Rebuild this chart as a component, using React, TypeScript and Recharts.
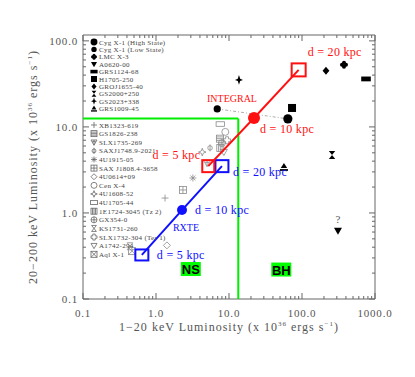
import {
  ScatterChart,
  Scatter,
  XAxis,
  YAxis,
  ReferenceLine,
  ReferenceArea,
  ReferenceDot,
  Legend,
} from "recharts";

// Black hole candidates (1-20 keV and 20-200 keV luminosity, x 1e36 erg/s)
const bhNames = [
  "Cyg X-1 (High State)",
  "Cyg X-1 (Low State)",
  "LMC X-3",
  "A0620-00",
  "GRS1124-68",
  "H1705-250",
  "GROJ1655-40",
  "GS2000+250",
  "GS2023+338",
  "GRS1009-45",
];
const bhLx = [64, 6.9, 376, 311, 753, 73, 213, 258, 13.7, 56.6];
const bhLhx = [12.4, 16.2, 52.6, 0.62, 36.1, 16.6, 44.8, 4.72, 35.2, 3.43];

// Neutron star sources
const nsNames = [
  "XB1323-619",
  "GS1826-238",
  "SLX1735-269",
  "SAXJ1748.9-2021",
  "4U1915-05",
  "SAX J1808.4-3658",
  "4U0614+09",
  "Cen X-4",
  "4U1608-52",
  "4U1705-44",
  "1E1724-3045 (Tz 2)",
  "GX354-0",
  "KS1731-260",
  "SLX1732-304 (Ter 1)",
  "A1742-294",
  "Aql X-1",
];
const nsLx = [1.33, 7.5, 5.0, 5.5, 3.2, 2.34, 1.41, 8.9, 4.3, 7.6, 7.6, 8.0, 0.44, 9.4, 8.5, 0.47];
const nsLhx = [1.49, 7.3, 3.8, 5.7, 2.55, 1.85, 0.42, 8.75, 5.1, 10.8, 5.7, 6.5, 0.41, 7.0, 5.1, 0.36];

// The new source at assumed distances
const distances = [5, 10, 20];
const integralLx = [5.2, 22, 90];
const integralLhx = [3.5, 12.7, 46];
const rxteLx = [0.64, 2.27, 8.0];
const rxteLhx = [0.325, 1.08, 3.5];

// NS / BH dividing box
const limitLx = 13.4;
const limitLhx = 12.5;

// axes
const xMajor = [0.1, 1, 10, 100, 1000];
const xMajorLabels = ["0.1", "1.0", "10.0", "100.0", "1000.0"];
const yMajor = [0.1, 1, 10, 100];
const yMajorLabels = ["0.1", "1.0", "10.0", "100.0"];
const yMax = 117;

const symbolOf: Record<string, string> = {
  "Cyg X-1 (High State)": "circleBig",
  "Cyg X-1 (Low State)": "circle",
  "LMC X-3": "club",
  "A0620-00": "triDown",
  "GRS1124-68": "rect",
  "H1705-250": "square",
  "GROJ1655-40": "diamond",
  "GS2000+250": "hourglass",
  "GS2023+338": "star4",
  "GRS1009-45": "triUp",
  "XB1323-619": "plus",
  "GS1826-238": "sqH",
  "SLX1735-269": "triDownLine",
  "SAXJ1748.9-2021": "circleBar",
  "4U1915-05": "asterisk",
  "SAX J1808.4-3658": "sqCross",
  "4U0614+09": "diamondO",
  "Cen X-4": "circleO",
  "4U1608-52": "star4O",
  "4U1705-44": "rectO",
  "1E1724-3045 (Tz 2)": "sqV",
  "GX354-0": "circleCross",
  "KS1731-260": "hourglassO",
  "SLX1732-304 (Ter 1)": "clubO",
  "A1742-294": "triDownO",
  "Aql X-1": "sqX",
};

const PLOT_W = 292;
const PLOT_H = 264;
const axisColor = "#666";
const textColor = "#555";
const serif = "'Liberation Serif', 'DejaVu Serif', serif";
const red = "#ff1010";
const blue = "#1010ff";
const green = "#00ee00";
const nsGrey = "#8a8a8a";

function minorTicks(majors: number[], max: number) {
  const out: number[] = [];
  majors.forEach((d) => {
    for (let k = 1; k <= 9; k++) {
      const v = k === 1 ? d : d * k;
      if (v <= max) out.push(v);
    }
  });
  return out;
}
const xTicks = minorTicks(xMajor, 1000);
const yTicks = minorTicks(yMajor, yMax);

const bhData = bhNames.map((name, i) => ({ name, x: bhLx[i], y: bhLhx[i] }));
const nsData = nsNames.map((name, i) => ({ name, x: nsLx[i], y: nsLhx[i] }));
const integralData = distances.map((d, i) => ({ d, x: integralLx[i], y: integralLhx[i] }));
const rxteData = distances.map((d, i) => ({ d, x: rxteLx[i], y: rxteLhx[i] }));
// INTEGRAL track of Cyg X-1 between its two states
const cygTrack = [bhData[1], bhData[0]];

function Sym({ kind, cx, cy, s, color }: { kind: string; cx: number; cy: number; s: number; color: string }) {
  const o = { fill: "none", stroke: color, strokeWidth: 0.8 };
  const f = { fill: color, stroke: "none" };
  const w = s * 0.4;
  switch (kind) {
    case "circleBig":
      return <circle cx={cx} cy={cy} r={s * 1.15} {...f} />;
    case "circle":
      return <circle cx={cx} cy={cy} r={s * 0.9} {...f} />;
    case "club":
      return (
        <g {...f}>
          <circle cx={cx - s * 0.5} cy={cy} r={s * 0.5} />
          <circle cx={cx + s * 0.5} cy={cy} r={s * 0.5} />
          <circle cx={cx} cy={cy - s * 0.5} r={s * 0.5} />
          <circle cx={cx} cy={cy + s * 0.5} r={s * 0.5} />
        </g>
      );
    case "triDown":
      return <polygon points={`${cx - s},${cy - s * 0.75} ${cx + s},${cy - s * 0.75} ${cx},${cy + s}`} {...f} />;
    case "rect":
      return <rect x={cx - s * 1.2} y={cy - s * 0.6} width={s * 2.4} height={s * 1.2} {...f} />;
    case "square":
      return <rect x={cx - s} y={cy - s} width={s * 2} height={s * 2} {...f} />;
    case "diamond":
      return <polygon points={`${cx},${cy - s} ${cx + s * 0.85},${cy} ${cx},${cy + s} ${cx - s * 0.85},${cy}`} {...f} />;
    case "hourglass":
      return <path d={`M${cx - s * 0.8},${cy - s}H${cx + s * 0.8}L${cx - s * 0.8},${cy + s}H${cx + s * 0.8}Z`} {...f} />;
    case "star4":
      return (
        <polygon
          points={`${cx},${cy - s * 1.2} ${cx + s * 0.3},${cy - s * 0.3} ${cx + s},${cy} ${cx + s * 0.3},${cy + s * 0.3} ${cx},${cy + s * 1.2} ${cx - s * 0.3},${cy + s * 0.3} ${cx - s},${cy} ${cx - s * 0.3},${cy - s * 0.3}`}
          {...f}
        />
      );
    case "triUp":
      return (
        <g {...f}>
          <polygon points={`${cx - s * 0.8},${cy + s * 0.3} ${cx + s * 0.8},${cy + s * 0.3} ${cx},${cy - s}`} />
          <rect x={cx - s} y={cy + s * 0.55} width={s * 2} height={s * 0.45} />
        </g>
      );
    case "plus":
      return <path d={`M${cx - s},${cy}H${cx + s}M${cx},${cy - s}V${cy + s}`} {...o} />;
    case "sqH":
      return (
        <g {...o}>
          <rect x={cx - s} y={cy - s} width={s * 2} height={s * 2} />
          <path d={`M${cx - s},${cy - s / 2}H${cx + s}M${cx - s},${cy}H${cx + s}M${cx - s},${cy + s / 2}H${cx + s}`} />
        </g>
      );
    case "triDownLine":
      return (
        <g {...o}>
          <polygon points={`${cx - s},${cy - s * 0.75} ${cx + s},${cy - s * 0.75} ${cx},${cy + s}`} />
          <path d={`M${cx},${cy - s * 0.75}V${cy + s}M${cx - s * 0.6},${cy - s * 0.2}H${cx + s * 0.6}`} />
        </g>
      );
    case "circleBar":
      return (
        <g {...o}>
          <circle cx={cx} cy={cy} r={s * 0.65} />
          <path d={`M${cx},${cy - s}V${cy + s}`} />
        </g>
      );
    case "asterisk":
      return (
        <path
          d={`M${cx - s},${cy}H${cx + s}M${cx},${cy - s}V${cy + s}M${cx - s * 0.7},${cy - s * 0.7}L${cx + s * 0.7},${cy + s * 0.7}M${cx - s * 0.7},${cy + s * 0.7}L${cx + s * 0.7},${cy - s * 0.7}`}
          {...o}
        />
      );
    case "sqCross":
      return (
        <g {...o}>
          <rect x={cx - s} y={cy - s} width={s * 2} height={s * 2} />
          <path d={`M${cx - s},${cy}H${cx + s}M${cx},${cy - s}V${cy + s}`} />
        </g>
      );
    case "diamondO":
      return <polygon points={`${cx},${cy - s} ${cx + s},${cy} ${cx},${cy + s} ${cx - s},${cy}`} {...o} />;
    case "circleO":
      return <circle cx={cx} cy={cy} r={s} {...o} />;
    case "star4O":
      return (
        <polygon
          points={`${cx},${cy - s * 1.1} ${cx + s * 0.3},${cy - s * 0.3} ${cx + s * 1.1},${cy} ${cx + s * 0.3},${cy + s * 0.3} ${cx},${cy + s * 1.1} ${cx - s * 0.3},${cy + s * 0.3} ${cx - s * 1.1},${cy} ${cx - s * 0.3},${cy - s * 0.3}`}
          {...o}
        />
      );
    case "rectO":
      return <rect x={cx - s * 1.2} y={cy - s * 0.65} width={s * 2.4} height={s * 1.3} {...o} />;
    case "sqV":
      return (
        <g {...o}>
          <rect x={cx - s} y={cy - s} width={s * 2} height={s * 2} />
          <path d={`M${cx - s / 2},${cy - s}V${cy + s}M${cx},${cy - s}V${cy + s}M${cx + s / 2},${cy - s}V${cy + s}`} />
        </g>
      );
    case "circleCross":
      return (
        <g {...o}>
          <circle cx={cx} cy={cy} r={s} />
          <path d={`M${cx - s},${cy}H${cx + s}M${cx},${cy - s}V${cy + s}`} />
        </g>
      );
    case "hourglassO":
      return <path d={`M${cx - s * 0.8},${cy - s}H${cx + s * 0.8}L${cx - s * 0.8},${cy + s}H${cx + s * 0.8}Z`} {...o} />;
    case "clubO":
      return (
        <polygon
          points={`${cx - w},${cy - s} ${cx + w},${cy - s} ${cx + w},${cy - w} ${cx + s},${cy - w} ${cx + s},${cy + w} ${cx + w},${cy + w} ${cx + w},${cy + s} ${cx - w},${cy + s} ${cx - w},${cy + w} ${cx - s},${cy + w} ${cx - s},${cy - w} ${cx - w},${cy - w}`}
          {...o}
        />
      );
    case "triDownO":
      return <polygon points={`${cx - s},${cy - s * 0.75} ${cx + s},${cy - s * 0.75} ${cx},${cy + s}`} {...o} />;
    case "sqX":
      return (
        <g {...o}>
          <rect x={cx - s} y={cy - s} width={s * 2} height={s * 2} />
          <path d={`M${cx - s},${cy - s}L${cx + s},${cy + s}M${cx - s},${cy + s}L${cx + s},${cy - s}`} />
        </g>
      );
    default:
      return null;
  }
}

function XTick(props: any) {
  const { x, y, payload } = props;
  const i = xMajor.indexOf(payload.value);
  const len = i >= 0 ? 6 : 3;
  return (
    <g>
      <line x1={x} y1={y} x2={x} y2={y - len} stroke={axisColor} />
      <line x1={x} y1={y - PLOT_H} x2={x} y2={y - PLOT_H + len} stroke={axisColor} />
      {i >= 0 && (
        <text x={x} y={y + 18} textAnchor="middle" fontSize={11} fontFamily={serif} fill={textColor} letterSpacing={0.8}>
          {xMajorLabels[i]}
        </text>
      )}
    </g>
  );
}

function YTick(props: any) {
  const { x, y, payload } = props;
  const i = yMajor.indexOf(payload.value);
  const len = i >= 0 ? 6 : 3;
  return (
    <g>
      <line x1={x} y1={y} x2={x + len} y2={y} stroke={axisColor} />
      <line x1={x + PLOT_W} y1={y} x2={x + PLOT_W - len} y2={y} stroke={axisColor} />
      {i >= 0 && (
        <text x={x - 5} y={y + 4} textAnchor="end" fontSize={11} fontFamily={serif} fill={textColor} letterSpacing={0.8}>
          {yMajorLabels[i]}
        </text>
      )}
    </g>
  );
}

function AxisTitle({ x, y, rotate, prefix }: { x: number; y: number; rotate?: boolean; prefix: string }) {
  return (
    <text
      x={x}
      y={y}
      textAnchor="middle"
      fontSize={12}
      fontFamily={serif}
      fill={textColor}
      letterSpacing={1}
      transform={rotate ? `rotate(-90, ${x}, ${y})` : undefined}
    >
      {prefix} keV Luminosity (x 10
      <tspan dy={-5} fontSize={7}>36</tspan>
      <tspan dy={5}> ergs s</tspan>
      <tspan dy={-5} fontSize={7}>−1</tspan>
      <tspan dy={5}>)</tspan>
    </text>
  );
}

function distanceShape(color: string, instrument: string, isRxte: boolean) {
  return (props: any) => {
    const { cx, cy, payload } = props;
    const d = payload.d;
    const label = `d = ${d} kpc`;
    const t = { fontSize: 12, fontFamily: serif, fill: color, letterSpacing: 0.3 };
    let mark;
    if (d === 10) {
      mark = <circle cx={cx} cy={cy} r={isRxte ? 5 : 6} fill={color} />;
    } else {
      const w = isRxte ? 13 : d === 20 ? 14 : 12;
      const h = isRxte ? (d === 20 ? 12 : 11) : d === 20 ? 13 : 12;
      mark = <rect x={cx - w / 2} y={cy - h / 2} width={w} height={h} fill="none" stroke={color} strokeWidth={2} />;
    }
    let text;
    if (!isRxte) {
      if (d === 5) text = <text x={cx - 8} y={cy - 7} textAnchor="end" {...t}>{label}</text>;
      else if (d === 10) text = <text x={cx + 6} y={cy + 15} {...t}>{label}</text>;
      else text = <text x={cx + 9} y={cy - 14} {...t}>{label}</text>;
    } else {
      if (d === 5) text = <text x={cx + 15} y={cy + 4} {...t}>{label}</text>;
      else if (d === 10) text = <text x={cx + 13} y={cy + 4} {...t}>{label}</text>;
      else text = <text x={cx + 11} y={cy + 10} {...t}>{label}</text>;
    }
    return (
      <g>
        {mark}
        {text}
        {d === 10 && (
          <text
            x={isRxte ? cx + 4 : cx - 22}
            y={isRxte ? cy + 21 : cy - 16}
            textAnchor="middle"
            fontSize={10}
            fontFamily={serif}
            fill={color}
          >
            {instrument}
          </text>
        )}
      </g>
    );
  };
}

const renderLegend = () => (
  <svg width={110} height={225} style={{ display: "block" }}>
    {bhNames.map((n, i) => {
      const y = 6 + i * 7.4;
      return (
        <g key={n}>
          <Sym kind={symbolOf[n]} cx={10} cy={y} s={3} color="#000" />
          <text x={15} y={y + 2.5} fontSize={7} fontFamily={serif} fill="#444" letterSpacing={0.3}>
            {n}
          </text>
        </g>
      );
    })}
    {nsNames.map((n, i) => {
      const y = 89 + i * 8.62;
      return (
        <g key={n}>
          <Sym kind={symbolOf[n]} cx={10} cy={y} s={3} color="#666" />
          <text x={15} y={y + 2.5} fontSize={7} fontFamily={serif} fill="#444" letterSpacing={0.3}>
            {n}
          </text>
        </g>
      );
    })}
  </svg>
);

const classBox = (text: string) => (props: any) => {
  const { cx, cy } = props;
  return (
    <g>
      <rect x={cx - 10} y={cy - 7} width={20} height={14} fill="#00ff00" />
      <text x={cx} y={cy + 5} textAnchor="middle" fontSize={13} fontWeight="bold" fontFamily="'Liberation Sans', Arial, sans-serif" fill="#000">
        {text}
      </text>
    </g>
  );
};

export default function App() {
  return (
    <div style={{ position: "absolute", left: 0, top: 0, width: 415, height: 377, background: "#fff" }}>
      <ScatterChart width={415} height={377} margin={{ top: 35, right: 40, bottom: 0, left: 0 }}>
        <XAxis
          type="number"
          dataKey="x"
          scale="log"
          domain={[0.1, 1000]}
          allowDataOverflow
          ticks={xTicks}
          interval={0}
          tick={(p: any) => <XTick {...p} />}
          tickLine={false}
          axisLine={false}
          tickSize={0}
          tickMargin={0}
          height={78}
          label={(p: any) => <AxisTitle x={p.viewBox.x + p.viewBox.width / 2} y={p.viewBox.y + 32} prefix="1−20" />}
        />
        <YAxis
          type="number"
          dataKey="y"
          scale="log"
          domain={[0.1, yMax]}
          allowDataOverflow
          ticks={yTicks}
          interval={0}
          tick={(p: any) => <YTick {...p} />}
          tickLine={false}
          axisLine={false}
          tickSize={0}
          tickMargin={0}
          width={83}
          label={(p: any) => <AxisTitle x={37} y={p.viewBox.y + p.viewBox.height / 2} rotate prefix="20−200" />}
        />
        <ReferenceArea x1={0.1} x2={1000} y1={0.1} y2={yMax} fill="none" stroke={axisColor} strokeWidth={1} />
        <ReferenceLine segment={[{ x: 0.1, y: limitLhx }, { x: limitLx, y: limitLhx }]} stroke={green} strokeWidth={2} />
        <ReferenceLine segment={[{ x: limitLx, y: 0.1 }, { x: limitLx, y: limitLhx }]} stroke={green} strokeWidth={2} />
        <Scatter
          data={cygTrack}
          line={{ stroke: "#999", strokeWidth: 0.8, strokeDasharray: "3 2 1 2" }}
          shape={() => <g />}
          isAnimationActive={false}
        />
        <Scatter
          data={nsData}
          shape={(p: any) => <Sym kind={symbolOf[p.payload.name]} cx={p.cx} cy={p.cy} s={3.5} color={nsGrey} />}
          isAnimationActive={false}
        />
        <Scatter
          data={bhData}
          shape={(p: any) => <Sym kind={symbolOf[p.payload.name]} cx={p.cx} cy={p.cy} s={4} color="#000" />}
          isAnimationActive={false}
        />
        <Scatter
          data={rxteData}
          line={{ stroke: blue, strokeWidth: 2 }}
          shape={distanceShape(blue, "RXTE", true)}
          isAnimationActive={false}
        />
        <Scatter
          data={integralData}
          line={{ stroke: red, strokeWidth: 2 }}
          shape={distanceShape(red, "INTEGRAL", false)}
          isAnimationActive={false}
        />
        <ReferenceDot
          x={bhLx[3]}
          y={bhLhx[3]}
          r={0}
          shape={(p: any) => (
            <text x={p.cx} y={p.cy - 8} textAnchor="middle" fontSize={11} fontFamily={serif} fill={textColor}>
              ?
            </text>
          )}
        />
        <ReferenceDot x={3.0} y={0.223} r={0} shape={classBox("NS")} />
        <ReferenceDot x={52} y={0.22} r={0} shape={classBox("BH")} />
        <Legend
          layout="horizontal"
          verticalAlign="middle"
          align="center"
          content={renderLegend}
          wrapperStyle={{ left: 84, top: 36, width: 110, height: 225 }}
        />
      </ScatterChart>
    </div>
  );
}
